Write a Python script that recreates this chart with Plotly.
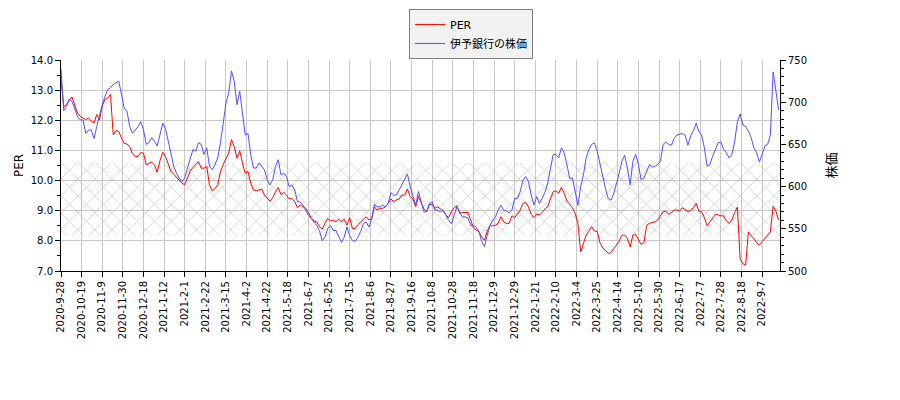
import plotly.graph_objects as go

# x軸は取引日の通し番号、15営業日ごとに目盛り
tick_labels = [
    "2020-9-28", "2020-10-19", "2020-11-9", "2020-11-30", "2020-12-18",
    "2021-1-12", "2021-2-1", "2021-2-22", "2021-3-15", "2021-4-2",
    "2021-4-22", "2021-5-18", "2021-6-7", "2021-6-25", "2021-7-15",
    "2021-8-6", "2021-8-27", "2021-9-16", "2021-10-8", "2021-10-28",
    "2021-11-18", "2021-12-9", "2021-12-29", "2022-1-21", "2022-2-10",
    "2022-3-4", "2022-3-25", "2022-4-14", "2022-5-10", "2022-5-30",
    "2022-6-17", "2022-7-7", "2022-7-28", "2022-8-18", "2022-9-7",
]
tick_step = 15

# 2営業日ごとの値
per = [
    13.36, 12.45, 12.52, 12.69, 12.77, 12.52, 12.24, 12.13, 12.08, 12.02,
    12.08, 11.97, 11.91, 12.19, 12.02, 12.47, 12.69, 12.74, 12.86, 11.52,
    11.66, 11.63, 11.41, 11.24, 11.21, 11.13, 10.88, 10.80, 10.80, 10.93,
    10.91, 10.52, 10.58, 10.61, 10.52, 10.28, 10.66, 10.94, 10.80, 10.52,
    10.30, 10.21, 10.10, 10.02, 9.91, 9.86, 10.08, 10.32, 10.43, 10.52,
    10.63, 10.41, 10.41,
    10.47, 9.86, 9.66, 9.74, 9.86, 10.30, 10.54, 10.72, 10.91, 11.36,
    11.13, 10.74, 10.99, 10.58, 10.24, 10.30, 9.91, 9.69, 9.66, 9.69,
    9.72, 9.52, 9.43, 9.32, 9.43, 9.63, 9.77, 9.54, 9.61, 9.52,
    9.39, 9.41, 9.30, 9.10, 9.19, 9.13, 9.08, 8.94, 8.77, 8.66,
    8.63, 8.47, 8.39, 8.58, 8.74, 8.66, 8.69, 8.63, 8.72, 8.63,
    8.72, 8.52, 8.77,
    8.41, 8.41, 8.54, 8.63, 8.74, 8.80, 8.69, 8.74, 9.13, 9.02,
    9.08, 9.08, 9.13, 9.24, 9.39, 9.30, 9.36, 9.39, 9.52, 9.52,
    9.72, 9.47, 9.39, 9.13, 9.47, 9.24, 9.06, 8.97, 9.21, 9.21,
    9.08, 9.13, 9.06, 8.99, 8.86, 8.77, 8.97, 9.10, 9.17, 8.91,
    8.94, 8.94, 8.94, 8.69, 8.43, 8.36, 8.30, 8.13, 8.02, 8.32,
    8.50, 8.50,
    8.52, 8.58, 8.80, 8.63, 8.58, 8.58, 8.83, 8.77, 8.91, 9.02,
    9.24, 9.28, 9.13, 8.88, 8.77, 8.88, 8.86, 8.94, 9.06, 9.13,
    9.39, 9.63, 9.66, 9.58, 9.77, 9.58, 9.32, 9.19, 9.10, 8.91,
    8.58, 7.63, 7.91, 8.19, 8.32, 8.47, 8.32, 8.32, 7.94, 7.77,
    7.69, 7.58, 7.61, 7.72, 7.86, 7.99, 8.19, 8.19, 8.08, 7.80,
    8.19, 8.21, 8.02,
    7.88, 7.94, 8.52, 8.58, 8.61, 8.63, 8.69, 8.83, 8.97, 8.99,
    8.88, 8.94, 9.02, 9.02, 8.99, 9.10, 9.02, 8.97, 9.02, 9.10,
    9.24, 8.99, 8.97, 8.77, 8.50, 8.63, 8.72, 8.88, 8.86, 8.83,
    8.83, 8.66, 8.58, 8.69, 8.94, 9.12, 7.41, 7.24, 7.19, 8.30,
    8.17, 8.08, 7.94, 7.86, 7.97, 8.08, 8.17, 8.30, 9.15, 8.99,
    8.69,
]

price = [
    739, 690, 695, 703, 701, 693, 683, 679, 679, 663,
    667, 667, 657, 671, 685, 697, 707, 715, 717, 721,
    723, 725, 709, 693, 689, 671, 663, 667, 671, 677,
    667, 650, 652, 658, 654, 648, 661, 675, 669, 654,
    638, 624, 616, 610, 606, 610, 622, 632, 644, 642,
    652, 650, 638,
    646, 624, 620, 626, 634, 652, 675, 699, 711, 737,
    725, 697, 713, 685, 661, 663, 638, 622, 622, 628,
    624, 620, 608, 602, 608, 624, 632, 614, 616, 612,
    600, 602, 596, 582, 582, 578, 572, 566, 562, 558,
    554, 548, 536, 540, 550, 554, 548, 548, 540, 534,
    540, 552, 542,
    536, 535, 540, 547, 556, 558, 552, 562, 579, 576,
    576, 578, 576, 580, 593, 590, 590, 596, 602, 608,
    615, 600, 590, 578, 594, 582, 570, 570, 580, 582,
    572, 572, 570, 572, 565, 560, 556, 566, 576, 570,
    564, 564, 563, 554, 554, 552, 547, 535, 529, 542,
    554, 560,
    564, 572, 578, 572, 571, 569, 572, 586, 586, 594,
    607, 612, 606, 590, 578, 588, 580, 586, 593, 604,
    622, 638, 638, 634, 646, 640, 626, 610, 610, 592,
    578, 600, 614, 634, 644, 650, 652, 642, 626, 612,
    598, 586, 584, 591, 602, 616, 630, 637, 622, 602,
    630, 638, 626,
    608, 610, 618, 626, 623, 624, 626, 630, 650, 653,
    650, 649, 657, 661, 662, 663, 661, 649, 660, 666,
    675, 665, 661, 646, 624, 626, 636, 644, 652, 653,
    644, 640, 634, 638, 653, 677, 686, 673, 671, 666,
    658, 646, 640, 629, 638, 648, 650, 661, 736, 713,
    691,
]

# PERの網掛けレンジ
band_low = 8.16
band_high = 10.59

day = list(range(0, 2 * len(per), 2))
last_day = 523

font_family = "DejaVu Sans, Noto Sans CJK JP, sans-serif"
grid_color = "#c8c8c8"

fig = go.Figure()

fig.add_trace(go.Scatter(
    x=[0, last_day, last_day, 0], y=[band_low, band_low, band_high, band_high],
    fill="toself", mode="none", showlegend=False, hoverinfo="skip",
    fillcolor="rgba(0,0,0,0)",
    fillpattern=dict(shape="x", fgcolor="#999999", bgcolor="rgba(0,0,0,0)",
                     size=12, solidity=0.13)))

fig.add_trace(go.Scatter(
    x=day, y=per, name="PER", mode="lines",
    line=dict(color="#ff0000", width=1)))

fig.add_trace(go.Scatter(
    x=day, y=price, name="伊予銀行の株価", mode="lines", yaxis="y2",
    line=dict(color="#5050ff", width=1)))

# ページ本体の余白(8px)を差し引いたマージン
fig.update_layout(
    width=900, height=400,
    margin=dict(l=53, r=128, t=52, b=137, autoexpand=False),
    paper_bgcolor="white", plot_bgcolor="white",
    font=dict(family=font_family, size=10, color="black"),
    showlegend=True,
    legend=dict(x=0.484, y=1.242, xanchor="left", yanchor="top",
                bgcolor="#f2f2f2", bordercolor="#808080", borderwidth=1,
                font=dict(size=11, family=font_family)),
    xaxis=dict(
        range=[0, last_day],
        tickmode="array",
        tickvals=[k * tick_step for k in range(len(tick_labels))],
        ticktext=tick_labels,
        tickangle=-90,
        ticks="outside", ticklen=5, tickcolor="black",
        showline=True, linecolor="black", linewidth=1,
        showgrid=True, gridcolor=grid_color, gridwidth=1,
        zeroline=False, automargin=False),
    yaxis=dict(
        range=[7, 14], tick0=7, dtick=1, tickformat=".1f",
        ticks="outside", ticklen=5, tickcolor="black",
        minor=dict(dtick=0.5, ticks="outside", ticklen=3, tickcolor="black",
                   showgrid=False),
        showline=True, linecolor="black", linewidth=1,
        showgrid=True, gridcolor=grid_color, gridwidth=1,
        zeroline=False, automargin=False,
        title=dict(text="PER", standoff=4)),
    yaxis2=dict(
        overlaying="y", side="right",
        range=[500, 750], tick0=500, dtick=50,
        ticks="outside", ticklen=5, tickcolor="black",
        minor=dict(dtick=10, ticks="outside", ticklen=3, tickcolor="black",
                   showgrid=False),
        showline=True, linecolor="black", linewidth=1,
        showgrid=False, zeroline=False, automargin=False,
        title=dict(text="株価", standoff=20, font=dict(size=13))),
)

fig.write_html("out.html")
